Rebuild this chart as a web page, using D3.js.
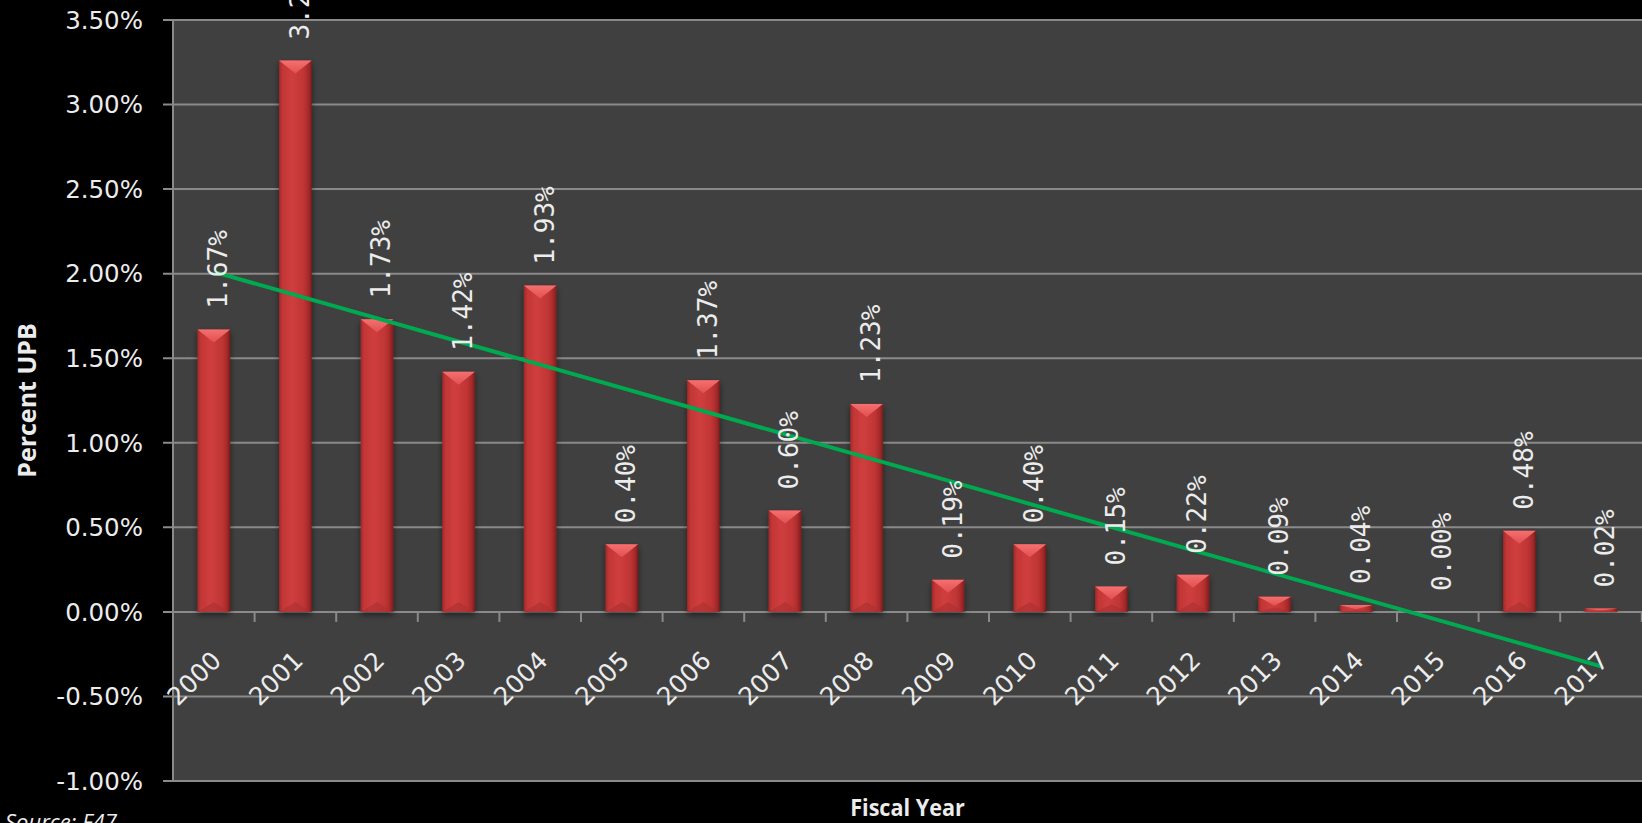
<!DOCTYPE html>
<html>
<head>
<meta charset="utf-8">
<script src="https://cdn.jsdelivr.net/npm/d3@7/dist/d3.min.js"></script>
<style>
  html, body { margin: 0; padding: 0; background: #000; }
  svg { display: block; }
</style>
</head>
<body>
<svg id="chart" width="1642" height="823"></svg>
<script>
// ---- data ----
const years = ["2000","2001","2002","2003","2004","2005","2006","2007","2008","2009","2010","2011","2012","2013","2014","2015","2016","2017"];
const values = [1.67, 3.26, 1.73, 1.42, 1.93, 0.40, 1.37, 0.60, 1.23, 0.19, 0.40, 0.15, 0.22, 0.09, 0.04, 0.00, 0.48, 0.02];
const yTicks = [-1.0, -0.5, 0.0, 0.5, 1.0, 1.5, 2.0, 2.5, 3.0, 3.5];
const yTitle = "Percent UPB";
const xTitle = "Fiscal Year";
const sourceText = "Source:  F47";

// ---- layout ----
const W = 1642, H = 823;
const plot = { left: 173, right: 1642, top: 20, bottom: 781 };

const svg = d3.select("#chart");

const x = d3.scaleBand().domain(years).range([plot.left, plot.left + 81.6 * years.length]).paddingInner(0.6).paddingOuter(0.3);
const xb = d3.scaleBand().domain(years).range([plot.left, plot.left + 81.6 * years.length]).padding(0);
const y = d3.scaleLinear().domain([-1.0, 3.5]).range([plot.bottom, plot.top]);

const defs = svg.append("defs");
const grad = defs.append("linearGradient").attr("id", "barGrad").attr("x1", "0%").attr("x2", "100%").attr("y1", "0%").attr("y2", "0%");
[["0%", "#a02828"], ["10%", "#c23636"], ["40%", "#d03e3e"], ["75%", "#c03535"], ["90%", "#a62a2a"], ["100%", "#7c1c1c"]]
  .forEach(([o, c]) => grad.append("stop").attr("offset", o).attr("stop-color", c));
const topGrad = defs.append("linearGradient").attr("id", "topGrad").attr("x1", "0%").attr("x2", "0%").attr("y1", "0%").attr("y2", "100%");
[["0%", "#f47070"], ["100%", "#e25050"]].forEach(([o, c]) => topGrad.append("stop").attr("offset", o).attr("stop-color", c));
const shadow = defs.append("filter").attr("id", "shadow").attr("x", "-30%").attr("y", "-10%").attr("width", "160%").attr("height", "130%");
shadow.append("feGaussianBlur").attr("in", "SourceAlpha").attr("stdDeviation", 3).attr("result", "b");
shadow.append("feOffset").attr("in", "b").attr("dx", 0).attr("dy", 3).attr("result", "o");
shadow.append("feComponentTransfer").attr("in", "o").attr("result", "s").append("feFuncA").attr("type", "linear").attr("slope", 0.5);
const m = shadow.append("feMerge");
m.append("feMergeNode").attr("in", "s");
m.append("feMergeNode").attr("in", "SourceGraphic");

// background
svg.append("rect").attr("width", W).attr("height", H).attr("fill", "#000");
svg.append("rect").attr("x", plot.left).attr("y", plot.top).attr("width", plot.right - plot.left).attr("height", plot.bottom - plot.top).attr("fill", "#404040");

// gridlines
svg.append("g").selectAll("line").data(yTicks).join("line")
  .attr("x1", plot.left - 10).attr("x2", plot.right)
  .attr("y1", d => y(d)).attr("y2", d => y(d))
  .attr("stroke", "#8a8a8a").attr("stroke-width", 2);

// y axis line
svg.append("line").attr("x1", plot.left).attr("x2", plot.left).attr("y1", plot.top).attr("y2", plot.bottom)
  .attr("stroke", "#8a8a8a").attr("stroke-width", 2);

// y tick labels
svg.append("g").selectAll("text").data(yTicks).join("text")
  .attr("x", 143).attr("y", d => y(d)).attr("dy", "0.36em")
  .attr("text-anchor", "end").attr("fill", "#ececec")
  .attr("font-family", "DejaVu Sans").attr("font-size", 24.5)
  .text(d => d3.format(".2f")(d).replace("−", "-") + "%");

// x ticks at band boundaries on zero line
svg.append("g").selectAll("line").data(years).join("line")
  .attr("x1", (d, i) => xb(years[0]) + xb.step() * (i + 1))
  .attr("x2", (d, i) => xb(years[0]) + xb.step() * (i + 1))
  .attr("y1", y(0)).attr("y2", y(0) + 10)
  .attr("stroke", "#8a8a8a").attr("stroke-width", 2);

// bars
const bars = svg.append("g").selectAll("g").data(values.map((v, i) => ({ v, yr: years[i] }))).join("g");
bars.each(function(d) {
  const g = d3.select(this);
  const bx = x(d.yr), bw = x.bandwidth();
  const top = y(d.v), h = y(0) - y(d.v);
  if (h <= 0) return;
  g.append("rect").attr("x", bx).attr("y", top).attr("width", bw).attr("height", h)
    .attr("fill", "url(#barGrad)").attr("filter", "url(#shadow)");
  const th = Math.min(13, h * 0.6);
  g.append("path")
    .attr("d", `M${bx},${top}L${bx + bw},${top}L${bx + bw / 2},${top + th}Z`)
    .attr("fill", "url(#topGrad)");
  const bh = Math.min(10, h * 0.3);
  g.append("path")
    .attr("d", `M${bx},${y(0)}L${bx + bw},${y(0)}L${bx + bw / 2},${y(0) - bh}Z`)
    .attr("fill", "#a83030").attr("opacity", 0.6);
});

// trend line (least squares of the series)
const n = values.length;
const xs = d3.range(n);
const mx = d3.mean(xs), my = d3.mean(values);
const slope = d3.sum(xs, i => (i - mx) * (values[i] - my)) / d3.sum(xs, i => (i - mx) ** 2);
const icpt = my - slope * mx;
const trend = [0, n - 1].map(i => ({ i, v: icpt + slope * i }));
svg.append("path")
  .datum(trend)
  .attr("d", d3.line().x(d => xb(years[d.i]) + xb.bandwidth() / 2).y(d => y(d.v)))
  .attr("stroke", "#00aa50").attr("stroke-width", 4).attr("fill", "none");

// data labels
svg.append("g").selectAll("text").data(values.map((v, i) => ({ v, yr: years[i] }))).join("text")
  .attr("transform", d => `translate(${xb(d.yr) + xb.bandwidth() / 2 + 4},${y(d.v) - 21}) rotate(-90)`)
  .attr("dy", "0.36em")
  .attr("text-anchor", "start").attr("fill", "#ececec")
  .attr("font-family", "DejaVu Sans Mono").attr("font-size", 26)
  .text(d => d3.format(".2f")(d.v) + "%");

// x tick labels
svg.append("g").selectAll("text").data(years).join("text")
  .attr("transform", d => `translate(${xb(d) + xb.bandwidth() / 2 + 9},${662}) rotate(-45)`)
  .attr("text-anchor", "end").attr("fill", "#ececec")
  .attr("font-family", "DejaVu Sans").attr("font-size", 25)
  .text(d => d);

// axis titles
svg.append("text")
  .attr("transform", `translate(${36},${(plot.top + plot.bottom) / 2}) rotate(-90)`)
  .attr("text-anchor", "middle").attr("fill", "#ececec")
  .attr("font-family", "Open Sans").attr("font-weight", "bold").attr("font-size", 25)
  .text(yTitle);

svg.append("text")
  .attr("x", (plot.left + plot.right) / 2).attr("y", 816)
  .attr("text-anchor", "middle").attr("fill", "#ececec")
  .attr("font-family", "Open Sans").attr("font-weight", "bold").attr("font-size", 24)
  .attr("transform", `translate(${(plot.left + plot.right) / 2},0) scale(0.9,1) translate(${-(plot.left + plot.right) / 2},0)`)
  .text(xTitle);

svg.append("text")
  .attr("x", 5).attr("y", 830)
  .attr("fill", "#ececec").attr("font-family", "Open Sans").attr("font-style", "italic").attr("font-size", 22)
  .text(sourceText);
</script>
</body>
</html>
